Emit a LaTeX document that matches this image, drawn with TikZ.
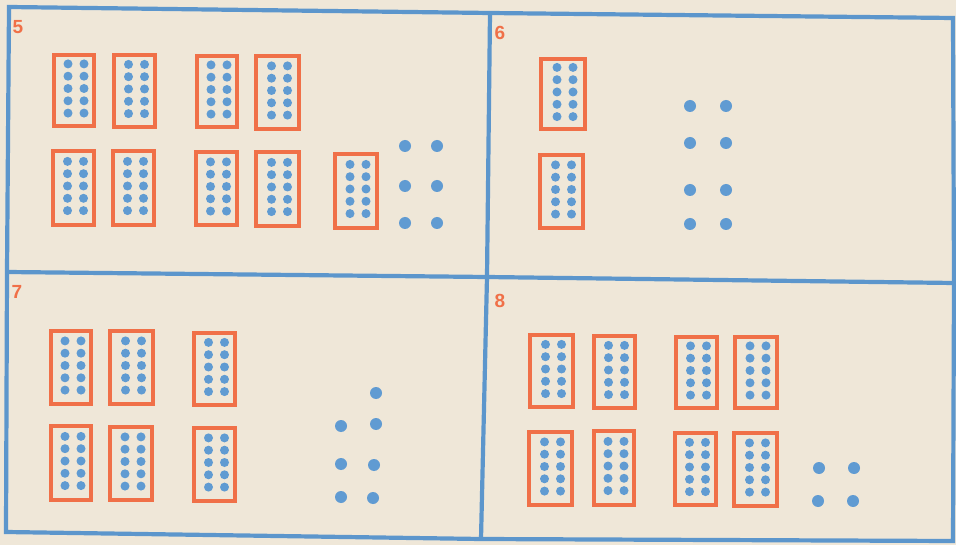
\documentclass[tikz,border=0pt]{standalone}
\usepackage{fontspec}
\setsansfont{Liberation Sans}
\usetikzlibrary{calc}
\definecolor{bgc}{RGB}{239,231,216}
\definecolor{framec}{RGB}{92,150,204}
\definecolor{dotc}{RGB}{96,155,210}
\definecolor{boxc}{RGB}{240,112,72}
\tikzset{
  tenbox/.style={draw=boxc, line width=3.6pt, inner sep=0pt, rectangle},
  framel/.style={draw=framec, line width=4.2pt, line join=miter},
  numlabel/.style={text=boxc, font=\sffamily\bfseries\fontsize{19}{19}\selectfont, inner sep=0pt},
}
\newcommand\tenbox[5]{%
  \node[tenbox, minimum width={#4-#2-3.6}, minimum height={#5-#3-3.6}] (#1) at ({(#2+#4)/2},{(#3+#5)/2}) {};
  \foreach \r in {-2,...,2} {\foreach \c in {-1,1} {%
    \fill[dotc] ($(#1.center)+(\c*8+2,\r*12.3-2)$) circle (4.5pt);}}%
}
\newcommand\bigdot[2]{\fill[dotc] (#1,#2) circle (6pt);}
\begin{document}
\begin{tikzpicture}[x=1pt,y=-1pt]
\fill[bgc] (0,0) rectangle (956,545);
\useasboundingbox (0,0) rectangle (956,545);
% frame
\coordinate (TL) at (9,7);
\coordinate (TM) at (490,13);
\coordinate (TR) at (953,18);
\coordinate (ML) at (7,272);
\coordinate (C) at (487,277);
\coordinate (MR) at (954,283);
\coordinate (BL) at (6,532);
\coordinate (BM) at (481,539);
\coordinate (BR) at (953,541);
\draw[framel] (TL) -- (TM) -- (TR) -- (MR) -- (BR) -- (BM) -- (BL) -- (ML) -- cycle;
\draw[framel] (TM) -- (C) -- (BM);
\draw[framel] (ML) -- (C) -- (MR);
% labels
\node[numlabel] (n5) at (18,27) {5};
\node[numlabel] (n6) at (500,33) {6};
\node[numlabel] (n7) at (17,292) {7};
\node[numlabel] (n8) at (500,301) {8};
% panel 5
\tenbox{p5a}{52}{53}{96}{128}
\tenbox{p5b}{112}{53}{157}{129}
\tenbox{p5c}{195}{54}{239}{129}
\tenbox{p5d}{254}{54}{301}{131}
\tenbox{p5e}{51}{149}{96}{227}
\tenbox{p5f}{111}{149}{156}{227}
\tenbox{p5g}{194}{150}{239}{227}
\tenbox{p5h}{254}{150}{301}{228}
\tenbox{p5i}{333}{152}{379}{230}
\bigdot{405}{146}\bigdot{437}{146}
\bigdot{405}{186}\bigdot{437}{186}
\bigdot{405}{223}\bigdot{437}{223}
% panel 6
\tenbox{p6a}{539}{57}{587}{131}
\tenbox{p6b}{538}{153}{585}{230}
\bigdot{690}{106}\bigdot{726}{106}
\bigdot{690}{143}\bigdot{726}{143}
\bigdot{690}{190}\bigdot{726}{190}
\bigdot{690}{224}\bigdot{726}{224}
% panel 7
\tenbox{p7a}{49}{329}{93}{406}
\tenbox{p7b}{108}{329}{155}{406}
\tenbox{p7c}{192}{331}{237}{407}
\tenbox{p7d}{49}{424}{93}{502}
\tenbox{p7e}{108}{425}{154}{502}
\tenbox{p7f}{192}{426}{237}{503}
\bigdot{376}{393}
\bigdot{341}{426}\bigdot{376}{424}
\bigdot{341}{464}\bigdot{374}{465}
\bigdot{341}{497}\bigdot{373}{498}
% panel 8
\tenbox{p8a}{528}{333}{575}{409}
\tenbox{p8b}{592}{334}{637}{410}
\tenbox{p8c}{674}{335}{719}{410}
\tenbox{p8d}{733}{335}{779}{410}
\tenbox{p8e}{527}{430}{574}{507}
\tenbox{p8f}{592}{429}{636}{507}
\tenbox{p8g}{673}{431}{718}{507}
\tenbox{p8h}{732}{431}{779}{508}
\bigdot{819}{468}\bigdot{854}{468}
\bigdot{818}{501}\bigdot{853}{501}
\end{tikzpicture}
\end{document}
